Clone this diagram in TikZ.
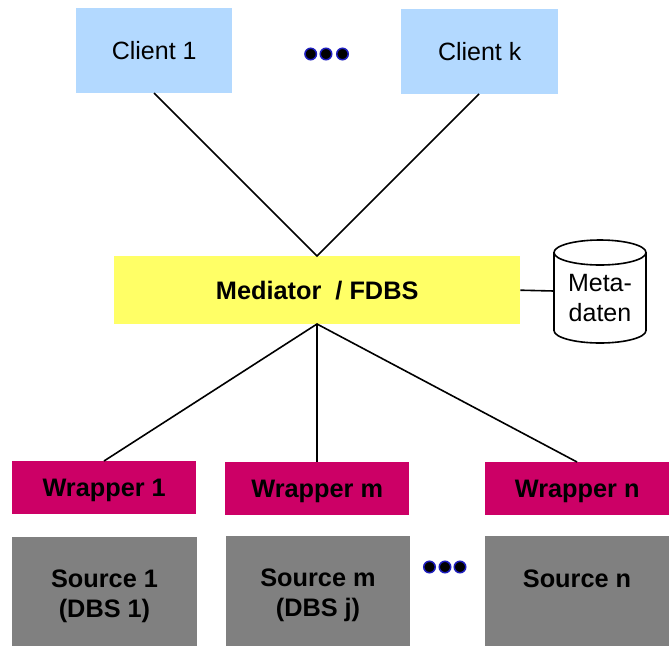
\documentclass[tikz,border=0pt]{standalone}
\usepackage{fontspec}
\setmainfont{Liberation Sans}
\definecolor{cl}{RGB}{179,217,255}
\definecolor{med}{RGB}{255,255,102}
\definecolor{wr}{RGB}{204,0,102}
\definecolor{sr}{RGB}{128,128,128}
\definecolor{dotb}{RGB}{30,30,190}
\begin{document}
\begin{tikzpicture}[x=1pt,y=-1pt,
 box/.style={anchor=north west,inner sep=0pt,align=center},
 client/.style={box,fill=cl,font=\fontsize{25}{30}\selectfont},
 bold/.style={box,font=\fontsize{25.3}{30}\selectfont\bfseries},
 wrapper/.style={bold,fill=wr,text height=24pt,text depth=5.5pt},
 source/.style={box,fill=sr},
 srctext/.style={align=center,inner sep=0pt,font=\fontsize{25.3}{30}\selectfont\bfseries},
 link/.style={draw=black,line width=1.6pt},
 dotc/.style={circle,fill=black,draw=dotb,line width=1.5pt,minimum size=11.5pt,inner sep=0pt}]
\useasboundingbox (0,0) rectangle (672,646);
\node[client,minimum width=156pt,minimum height=85pt] (c1) at (76,8) {Client 1};
\node[client,minimum width=157pt,minimum height=85pt] (ck) at (401,9) {Client k};
\node[bold,fill=med,minimum width=406pt,minimum height=68pt] (m) at (114,256) {Mediator\ \ / FDBS};
\node[wrapper,minimum width=184pt,minimum height=53pt] (w1) at (12,461) {Wrapper 1};
\node[wrapper,minimum width=184pt,minimum height=53pt] (wm) at (225,462) {Wrapper m};
\node[wrapper,minimum width=184pt,minimum height=53pt] (wn) at (485,462) {Wrapper n};
\node[source,minimum width=185pt,minimum height=109pt] (s1) at (12,537) {};
\node[source,minimum width=184pt,minimum height=110pt] (sm) at (226,536) {};
\node[source,minimum width=184pt,minimum height=110pt] (sn) at (485,536) {};
\node[srctext] (s1t) at (104.5,596.5) {Source 1\\(DBS 1)};
\node[srctext] (smt) at (318,595.5) {Source m\\(DBS j)};
\node[srctext] (snt) at (577,578.5) {Source n};
% cylinder
\draw[fill=white,line width=1.6pt] (554,252.5) arc[start angle=180,end angle=360,x radius=46,y radius=12.5]
  -- (646,330.5) arc[start angle=0,end angle=180,x radius=46,y radius=12.5] -- cycle;
\draw[line width=1.6pt] (554,252.5) arc[start angle=180,end angle=0,x radius=46,y radius=12.5];
\node[align=center,inner sep=0pt,font=\fontsize{25}{30}\selectfont] (metat) at (600,298) {Meta-\\daten};
\coordinate (mw) at (554,291);
\coordinate (mt) at (317,256);
\coordinate (mb) at (317,324);
\coordinate (c1b) at (154,93);
\coordinate (ckb) at (479,94);
\coordinate (w1t) at (104,461);
\coordinate (wmt) at (317,462);
\coordinate (wnt) at (577,462);
\draw[link] (c1b) -- (mt) -- (ckb);
\draw[link] (w1t) -- (mb) -- (wnt);
\draw[link] (mb) -- (wmt);
\draw[link] (m.east) -- (mw);
\foreach \n/\x/\y in {a/310.7/54,b/326/54,c/342.5/54,d/429.5/567,e/445/567,f/460/567}{
 \node[dotc] (\n) at (\x,\y) {};}
\end{tikzpicture}
\end{document}
